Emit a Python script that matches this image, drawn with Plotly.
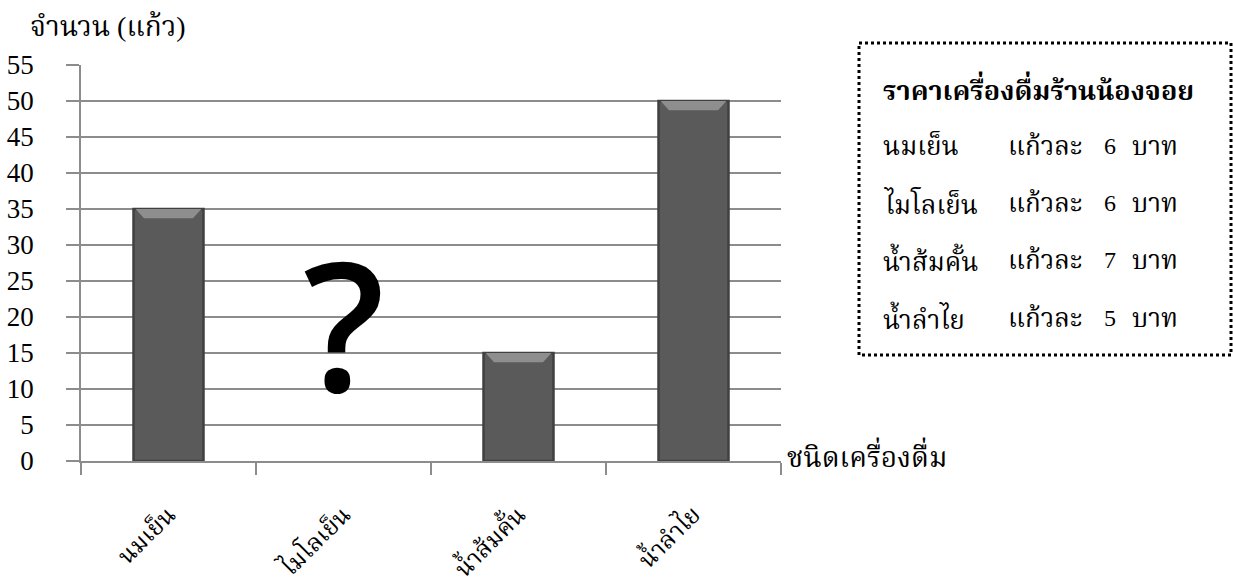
import plotly.graph_objects as go

# Drink sales (glasses); the Milo value is the unknown to be worked out
drinks = ["นมเย็น", "ไมโลเย็น", "น้ำส้มคั้น", "น้ำลำไย"]
glasses = [35, None, 15, 50]

# Price list shown in the side box
price_names = ["นมเย็น", "ไมโลเย็น", "น้ำส้มคั้น", "น้ำลำไย"]
price_values = [6, 6, 7, 5]

y_ticks = list(range(0, 56, 5))

W, H = 1233, 585
L, R, T, B = 81, 452, 65, 124
PW, PH = W - L - R, H - T - B

def px(x):
    return (x - L) / PW

def py(y):
    return (H - B - y) / PH

SERIF = "Liberation Serif, Noto Serif Thai, Noto Sans Thai, serif"
GRID = "#8c8c8c"
BAR_W = 0.4

fig = go.Figure()
fig.add_trace(go.Bar(
    x=drinks, y=glasses, width=BAR_W,
    marker=dict(color="#5a5a5a", line=dict(color="#404040", width=2.5)),
    hoverinfo="x+y",
))

# Light bevel along the top edge of each bar
for i, v in enumerate(glasses):
    if v is None:
        continue
    h = BAR_W / 2
    inset = 0.06
    fig.add_shape(
        type="path", xref="x", yref="y", layer="above",
        path=(f"M {i - h + 0.012} {v} L {i + h - 0.012} {v} "
              f"L {i + h - inset} {v - 1.3} L {i - h + inset} {v - 1.3} Z"),
        fillcolor="#8e8e8e", line=dict(width=0),
    )

fig.update_layout(
    width=W, height=H,
    margin=dict(l=L, r=R, t=T, b=B, autoexpand=False),
    paper_bgcolor="white", plot_bgcolor="white",
    showlegend=False,
    font=dict(family=SERIF, size=21, color="black"),
    xaxis=dict(
        range=[-0.5, 3.5], tickson="boundaries", ticks="outside", ticklen=12,
        tickcolor=GRID, tickwidth=1.5, tickangle=-45, showgrid=False,
        showline=True, linecolor=GRID, linewidth=1.8,
        ticklabelstandoff=28, automargin=False,
        tickfont=dict(family=SERIF, size=24),
    ),
    yaxis=dict(
        range=[0, 55], tickvals=y_ticks, ticks="outside", ticklen=13,
        tickcolor=GRID, tickwidth=1.8, gridcolor=GRID, gridwidth=1.8,
        showline=True, linecolor=GRID, linewidth=1.8, zeroline=False,
        ticklabelstandoff=27, automargin=False,
        tickfont=dict(family=SERIF, size=27),
    ),
)

def text_at(x, y, s, size, anchor="left"):
    fig.add_annotation(x=px(x), y=py(y), xref="paper", yref="paper",
                       xanchor=anchor, yanchor="middle",
                       text=s, showarrow=False, font=dict(size=size))

# Axis titles
text_at(28, 27, "จำนวน (แก้ว)", 28)
text_at(785, 455, "ชนิดเครื่องดื่ม", 28)

# Question mark over the unknown bar
fig.add_annotation(x=drinks[1], y=19.2, xref="x", yref="y",
                   text="?", showarrow=False,
                   font=dict(family="Open Sans, sans-serif", size=180,
                             color="black", weight=600))

# Price box
fig.add_shape(type="rect", xref="paper", yref="paper",
              x0=px(859), x1=px(1231), y0=py(43), y1=py(355),
              line=dict(color="black", width=3, dash="dot"), fillcolor="white")
text_at(881, 88, "<b>ราคาเครื่องดื่มร้านน้องจอย</b>", 27)
row_y = [146, 203, 260, 318]
for name, price, yy in zip(price_names, price_values, row_y):
    text_at(881, yy, name, 26)
    text_at(1006, yy, "แก้วละ", 26)
    text_at(1102, yy, str(price), 24)
    text_at(1130, yy, "บาท", 26)

fig.write_html("out.html")
